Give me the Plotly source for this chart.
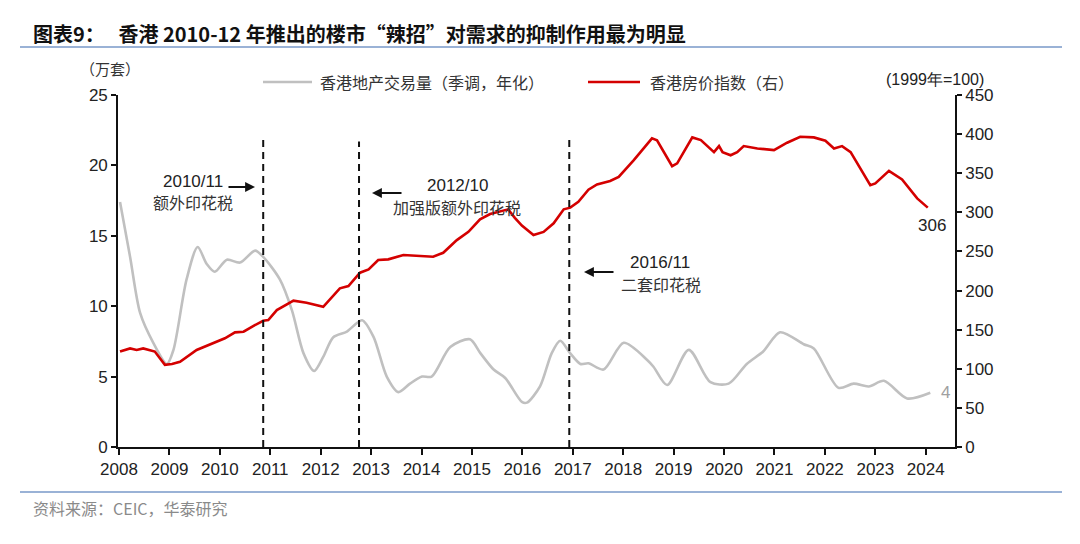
import plotly.graph_objects as go

# ---------------- data ----------------
vol_t = [2008.02, 2008.22, 2008.42, 2008.68, 2008.95, 2009.08, 2009.34, 2009.56, 2009.74, 2009.90,
         2010.14, 2010.40, 2010.70, 2010.86, 2011.19, 2011.43, 2011.66, 2011.87, 2012.05, 2012.25,
         2012.52, 2012.82, 2013.05, 2013.31, 2013.54, 2013.77, 2014.01, 2014.20, 2014.57, 2014.96,
         2015.17, 2015.43, 2015.66, 2015.99, 2016.09, 2016.35, 2016.58, 2016.75, 2016.95, 2017.15,
         2017.31, 2017.61, 2018.01, 2018.47, 2018.60, 2018.87, 2019.30, 2019.73, 2020.09, 2020.45,
         2020.78, 2021.11, 2021.58, 2021.78, 2022.27, 2022.57, 2022.87, 2023.17, 2023.63, 2024.09]
vol_v = [17.4, 13.5, 9.5, 7.4, 5.9, 6.9, 11.9, 14.2, 13.0, 12.45,
         13.3, 13.1, 13.95, 13.5, 11.9, 9.7, 6.65, 5.4, 6.4, 7.8,
         8.2, 9.0, 7.8, 5.0, 3.9, 4.5, 5.0, 5.0, 7.1, 7.65,
         6.65, 5.5, 4.9, 3.2, 3.15, 4.3, 6.65, 7.55, 6.65, 5.9,
         5.95, 5.5, 7.4, 6.2, 5.7, 4.4, 6.9, 4.6, 4.5, 5.9,
         6.8, 8.15, 7.3, 7.0, 4.2, 4.5, 4.3, 4.7, 3.45, 3.85]

price_t = [2008.02, 2008.22, 2008.35, 2008.48, 2008.71, 2008.91, 2009.05, 2009.21, 2009.54, 2009.87,
           2010.10, 2010.30, 2010.47, 2010.66, 2010.86, 2010.96, 2011.13, 2011.46, 2011.72, 2012.05,
           2012.38, 2012.55, 2012.78, 2012.95, 2013.14, 2013.34, 2013.64, 2014.23, 2014.43, 2014.70,
           2014.93, 2015.16, 2015.36, 2015.72, 2015.85, 2015.99, 2016.22, 2016.42, 2016.62, 2016.82,
           2016.95, 2017.11, 2017.31, 2017.48, 2017.74, 2017.91, 2018.21, 2018.57, 2018.67, 2018.97,
           2019.07, 2019.37, 2019.54, 2019.80, 2019.90, 2019.97, 2020.13, 2020.26, 2020.39, 2020.66,
           2020.99, 2021.25, 2021.51, 2021.78, 2022.01, 2022.18, 2022.34, 2022.51, 2022.90, 2023.00,
           2023.27, 2023.53, 2023.83, 2024.04]
price_v = [122, 126, 124, 126, 122, 105, 106, 109, 124, 132.5,
           139, 146.6, 147.4, 154.6, 161.4, 162.3, 175, 187, 184.4, 179.3,
           202.8, 205.8, 222.8, 227, 239, 239.9, 245.4, 243.2, 248.3, 264.5,
           275, 291, 297.8, 303.8, 293, 283, 271, 275, 286, 303.8,
           306, 313.5, 329, 335.7, 340, 345.4, 366.8, 394.5, 392, 359,
           362.6, 395.8, 392.3, 377, 384.7, 377, 373, 377, 384.7, 381.7,
           379.6, 389, 396.6, 395.8, 391.5, 381.7, 384.7, 377, 334.8, 337,
           353, 342, 317.8, 306]

year_ticks = list(range(2008, 2025))
left_ticks = [0, 5, 10, 15, 20, 25]
right_ticks = [0, 50, 100, 150, 200, 250, 300, 350, 400, 450]

series_names = ["香港地产交易量（季调，年化）", "香港房价指数（右）"]
policy_x = [2010.86, 2012.76, 2016.93]
policy_top = [22.0, 21.7, 22.0]
policy_date = ["2010/11", "2012/10", "2016/11"]
policy_name = ["额外印花税", "加强版额外印花税", "二套印花税"]

title_text = "图表9：   香港 2010-12 年推出的楼市“辣招”对需求的抑制作用最为明显"
source_text = "资料来源：CEIC，华泰研究"

GRAY = "#c0c0c0"
RED = "#d40000"
CJK = "Noto Sans CJK SC"
LAT = "Liberation Sans, Arial, sans-serif"

# page has an 8px body margin: the figure is drawn at page offset (8, 8)
OFF = 8
W, H = 1080 - OFF, 544 - OFF
# plot area in page pixels (as measured on the reference)
L, R, T, B = 118, 955, 95, 447
def px(x):
    return (x - L) / (R - L)
def py(y):
    return (B - y) / (B - T)

fig = go.Figure()
fig.add_trace(go.Scatter(x=vol_t, y=vol_v, mode="lines", name=series_names[0],
                         line=dict(color=GRAY, width=2.6, shape="spline", smoothing=0.8),
                         showlegend=False, yaxis="y"))
fig.add_trace(go.Scatter(x=price_t, y=price_v, mode="lines", name=series_names[1],
                         line=dict(color=RED, width=2.6),
                         showlegend=False, yaxis="y2"))

shapes = []
for xv, top in zip(policy_x, policy_top):
    shapes.append(dict(type="line", xref="x", yref="y", x0=xv, x1=xv, y0=0, y1=top,
                       line=dict(color="#111", width=2, dash="7px,5px")))
# title underline and footer line
shapes.append(dict(type="line", xref="paper", yref="paper", x0=px(20), x1=px(1062), y0=py(47), y1=py(47),
                   line=dict(color="#9ab2d6", width=2)))
shapes.append(dict(type="line", xref="paper", yref="paper", x0=px(20), x1=px(1062), y0=py(492), y1=py(492),
                   line=dict(color="#9ab2d6", width=2)))
# legend samples
shapes.append(dict(type="line", xref="paper", yref="paper", x0=px(263), x1=px(312), y0=py(82), y1=py(82),
                   line=dict(color=GRAY, width=2.6)))
shapes.append(dict(type="line", xref="paper", yref="paper", x0=px(588), x1=px(640), y0=py(82), y1=py(82),
                   line=dict(color=RED, width=2.6)))

ann = []
def A(x, y, text, size, color="#222", font=CJK, xanchor="left", **kw):
    ann.append(dict(x=px(x), y=py(y), xref="paper", yref="paper", text=text, showarrow=False,
                    xanchor=xanchor, yanchor="middle", font=dict(family=font, size=size, color=color), **kw))

A(31, 33, "<b>" + title_text + "</b>", 20, color="#111")
A(31, 508, source_text, 16, color="#8a8a8a")
A(318, 82, series_names[0], 16, color="#333")
A(648, 82, series_names[1], 16, color="#333")
A(78, 69, "（万套）", 15, color="#333")
A(986, 79, "(1999年=100)", 16, color="#222", font=LAT, xanchor="right")

# policy annotations
A(193, 181, policy_date[0], 17, color="#222", font=LAT, xanchor="center")
A(193, 202, policy_name[0], 16, color="#333", xanchor="center")
A(457, 185, policy_date[1], 17, color="#222", font=LAT, xanchor="center")
A(457, 207, policy_name[1], 16, color="#333", xanchor="center")
A(660, 262, policy_date[2], 17, color="#222", font=LAT, xanchor="center")
A(661, 284, policy_name[2], 16, color="#333", xanchor="center")

# arrows (tail given in pixel offsets)
def arrow(x0, x1, y):
    ann.append(dict(x=px(x1), y=py(y), xref="paper", yref="paper",
                    ax=x0 - x1, ay=0, axref="pixel", ayref="pixel", text="", showarrow=True,
                    arrowhead=2, arrowsize=1.1, arrowwidth=1.8, arrowcolor="#111", standoff=0))
arrow(227, 255, 187)
arrow(403, 372, 193)
arrow(615, 584, 272)

# end labels
ann.append(dict(x=price_t[-1], y=price_v[-1], xref="x", yref="y2", text=f"{price_v[-1]:.0f}",
                showarrow=False, xanchor="center", yanchor="middle", yshift=-18, xshift=4,
                font=dict(family=LAT, size=17, color="#222")))
ann.append(dict(x=vol_t[-1], y=vol_v[-1], xref="x", yref="y", text=f"{vol_v[-1]:.0f}",
                showarrow=False, xanchor="center", yanchor="middle", xshift=15, yshift=0,
                font=dict(family=LAT, size=17, color="#a0a0a0")))

tickfont = dict(family=LAT, size=17, color="#222")
fig.update_layout(
    width=W, height=H,
    margin=dict(l=L - OFF, r=W - (R - OFF), t=T - OFF, b=H - (B - OFF)),
    paper_bgcolor="white", plot_bgcolor="white",
    shapes=shapes, annotations=ann,
    xaxis=dict(range=[2007.98, 2024.58], tickvals=year_ticks, ticktext=[str(y) for y in year_ticks],
               showgrid=False, zeroline=False, showline=True, linecolor="#111", linewidth=1.6,
               ticks="outside", ticklen=6, tickwidth=1.6, tickcolor="#111", tickfont=tickfont),
    yaxis=dict(range=[0, 25], tickvals=left_ticks, showgrid=False, zeroline=False,
               showline=True, linecolor="#111", linewidth=1.6,
               ticks="outside", ticklen=5, tickwidth=1.6, tickcolor="#111", tickfont=tickfont),
    yaxis2=dict(range=[0, 450], tickvals=right_ticks, overlaying="y", side="right",
                showgrid=False, zeroline=False, showline=True, linecolor="#111", linewidth=1.6,
                ticks="outside", ticklen=5, tickwidth=1.6, tickcolor="#111", tickfont=tickfont),
)

fig.write_html("out.html")
